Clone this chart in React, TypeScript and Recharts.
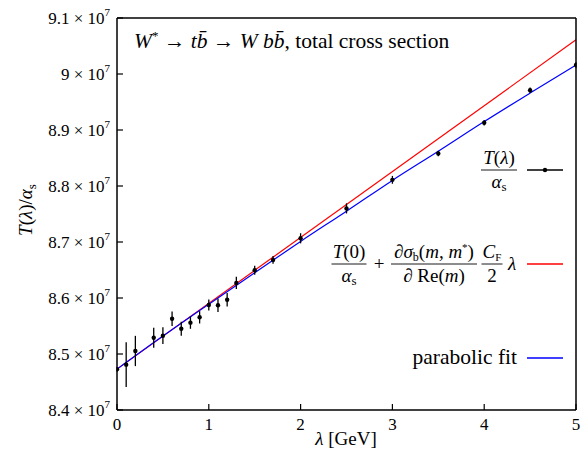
import {
  ComposedChart,
  ErrorBar,
  Line,
  Scatter,
  XAxis,
  YAxis,
} from 'recharts'

// lattice points, T(λ)/α_s in units of 1e7
const lambdas = [0, 0.1, 0.2, 0.4, 0.5, 0.6, 0.7, 0.8, 0.9, 1.0, 1.1, 1.2, 1.3, 1.5, 1.7, 2.0, 2.5, 3.0, 3.5, 4.0, 4.5, 5.0]
const tValues = [8.4727, 8.481, 8.5054, 8.529, 8.5327, 8.563, 8.545, 8.556, 8.5655, 8.5875, 8.587, 8.597, 8.627, 8.6495, 8.668, 8.7066, 8.760, 8.811, 8.858, 8.913, 8.971, 9.016]
const tErrors = [0.004, 0.04, 0.027, 0.018, 0.015, 0.013, 0.0125, 0.011, 0.011, 0.01, 0.012, 0.012, 0.011, 0.008, 0.007, 0.009, 0.009, 0.007, 0.005, 0.005, 0.005, 0.005]

// linear prediction (red)
const linearX = [0, 5]
const linearY = [8.473, 9.061]

// parabolic fit (blue)
const fitX = [0, 0.5, 1, 1.5, 2, 2.5, 3, 3.5, 4, 4.5, 5]
const fitY = [8.473, 8.532, 8.589, 8.645, 8.701, 8.755, 8.81, 8.862, 8.915, 8.966, 9.016]

const xTicks = [0, 1, 2, 3, 4, 5]
const yTicks = [8.4, 8.5, 8.6, 8.7, 8.8, 8.9, 9.0, 9.1]

const points = lambdas.map((l, i) => ({ x: l, y: tValues[i], err: tErrors[i] }))
const linear = linearX.map((x, i) => ({ x, y: linearY[i] }))
const fit = fitX.map((x, i) => ({ x, y: fitY[i] }))

const FONT = '"Liberation Serif", "DejaVu Serif", serif'
const TICK_LEN = 6

function BottomTick(props: any) {
  const { x, y, payload } = props
  return (
    <g>
      <line x1={x} y1={y} x2={x} y2={y - TICK_LEN} stroke="#000" strokeWidth={1.2} />
      <text x={x} y={y + 20} textAnchor="middle" fontFamily={FONT} fontSize={17} fill="#000">
        {payload.value}
      </text>
    </g>
  )
}

function TopTick(props: any) {
  const { x, y } = props
  return <line x1={x} y1={y} x2={x} y2={y + TICK_LEN} stroke="#000" strokeWidth={1.2} />
}

function LeftTick(props: any) {
  const { x, y, payload } = props
  const label = String(parseFloat(Number(payload.value).toFixed(1)))
  return (
    <g>
      <line x1={x} y1={y} x2={x + TICK_LEN} y2={y} stroke="#000" strokeWidth={1.2} />
      <text x={x - 7} y={y + 6} textAnchor="end" fontFamily={FONT} fontSize={17} fill="#000">
        <tspan>{label} × 10</tspan>
        <tspan dy={-8} fontSize={11}>7</tspan>
      </text>
    </g>
  )
}

function RightTick(props: any) {
  const { x, y } = props
  return <line x1={x} y1={y} x2={x - TICK_LEN} y2={y} stroke="#000" strokeWidth={1.2} />
}

function Dot(props: any) {
  const { cx, cy } = props
  return <circle cx={cx} cy={cy} r={2.2} fill="#000" />
}

function Frac({ cx, bar, w, num, den }: { cx: number; bar: number; w: number; num: any; den: any }) {
  return (
    <g>
      <text x={cx} y={bar - 6} textAnchor="middle">{num}</text>
      <line x1={cx - w / 2} y1={bar} x2={cx + w / 2} y2={bar} stroke="#000" strokeWidth={0.9} />
      <text x={cx} y={bar + 18} textAnchor="middle">{den}</text>
    </g>
  )
}

function Overlay() {
  return (
    <svg
      width={581}
      height={456}
      style={{ position: 'absolute', left: 0, top: 0, pointerEvents: 'none' }}
      fontFamily={FONT}
      fontSize={19}
      fill="#000"
    >
      {/* title */}
      <text x={134} y={48} fontSize={21.5}>
        <tspan fontStyle="italic">W</tspan>
        <tspan dy={-8} fontSize={13}>*</tspan>
        <tspan dy={8}> → </tspan>
        <tspan fontStyle="italic">tb{'\u0304'}</tspan>
        <tspan> → </tspan>
        <tspan fontStyle="italic">W bb{'\u0304'}</tspan>
        <tspan>, total cross section</tspan>
      </text>

      {/* axis labels */}
      <text x={346} y={445} textAnchor="middle" fontSize={19}>
        <tspan fontStyle="italic">λ</tspan>
        <tspan> [GeV]</tspan>
      </text>
      <text x={0} y={0} textAnchor="middle" fontSize={19} transform="translate(32 210) rotate(-90)">
        <tspan fontStyle="italic">T</tspan>
        <tspan>(</tspan>
        <tspan fontStyle="italic">λ</tspan>
        <tspan>)/</tspan>
        <tspan fontStyle="italic">α</tspan>
        <tspan dy={4} fontSize={13}>s</tspan>
      </text>

      {/* legend: data */}
      <Frac
        cx={499}
        bar={170}
        w={36}
        num={<><tspan fontStyle="italic">T</tspan>(<tspan fontStyle="italic">λ</tspan>)</>}
        den={<><tspan fontStyle="italic">α</tspan><tspan dy={3} fontSize={13}>s</tspan></>}
      />
      <line x1={527} y1={170} x2={563} y2={170} stroke="#000" strokeWidth={1.3} />
      <circle cx={545} cy={170} r={2.2} fill="#000" />

      {/* legend: linear */}
      <Frac
        cx={349}
        bar={264}
        w={35}
        num={<><tspan fontStyle="italic">T</tspan>(0)</>}
        den={<><tspan fontStyle="italic">α</tspan><tspan dy={3} fontSize={13}>s</tspan></>}
      />
      <text x={379} y={270} textAnchor="middle">+</text>
      <Frac
        cx={434}
        bar={264}
        w={86}
        num={<><tspan fontStyle="italic">∂σ</tspan><tspan dy={3} fontSize={12}>b</tspan><tspan dy={-3}>(</tspan><tspan fontStyle="italic">m, m</tspan><tspan dy={-7} fontSize={11}>*</tspan><tspan dy={7}>)</tspan></>}
        den={<><tspan fontStyle="italic">∂</tspan> Re(<tspan fontStyle="italic">m</tspan>)</>}
      />
      <Frac
        cx={492}
        bar={264}
        w={21}
        num={<><tspan fontStyle="italic">C</tspan><tspan dy={3} fontSize={11}>F</tspan></>}
        den={<>2</>}
      />
      <text x={512} y={270} textAnchor="middle" fontStyle="italic">λ</text>
      <line x1={527} y1={264} x2={563} y2={264} stroke="#ff0000" strokeWidth={1.3} />

      {/* legend: fit */}
      <text x={517} y={364} textAnchor="end" fontSize={21.5}>parabolic fit</text>
      <line x1={527} y1={358} x2={563} y2={358} stroke="#0000ff" strokeWidth={1.3} />
    </svg>
  )
}

const axisLine = { stroke: '#000', strokeWidth: 1.5 }

export default function App() {
  return (
    <div style={{ position: 'absolute', left: 0, top: 0, width: 581, height: 456, background: '#fff' }}>
      <ComposedChart
        width={581}
        height={456}
        margin={{ top: 8, right: 1, bottom: 6, left: 7 }}
      >
        <XAxis
          xAxisId="b"
          type="number"
          dataKey="x"
          domain={[0, 5]}
          ticks={xTicks}
          height={40}
          tickSize={0}
          tickMargin={0}
          tickLine={false}
          tick={<BottomTick />}
          axisLine={axisLine}
          interval={0}
          allowDataOverflow
        />
        <XAxis
          xAxisId="t"
          orientation="top"
          type="number"
          dataKey="x"
          domain={[0, 5]}
          ticks={xTicks}
          height={10}
          tickSize={0}
          tickMargin={0}
          tickLine={false}
          tick={<TopTick />}
          axisLine={axisLine}
          interval={0}
        />
        <YAxis
          yAxisId="l"
          type="number"
          domain={[8.4, 9.1]}
          ticks={yTicks}
          width={110}
          tickSize={0}
          tickMargin={0}
          tickLine={false}
          tick={<LeftTick />}
          axisLine={axisLine}
          interval={0}
          allowDataOverflow
        />
        <YAxis
          yAxisId="r"
          orientation="right"
          type="number"
          domain={[8.4, 9.1]}
          ticks={yTicks}
          width={4}
          tickSize={0}
          tickMargin={0}
          tickLine={false}
          tick={<RightTick />}
          axisLine={axisLine}
          interval={0}
        />
        <Line
          xAxisId="b"
          yAxisId="l"
          data={linear}
          dataKey="y"
          type="linear"
          stroke="#ff0000"
          strokeWidth={1.2}
          dot={false}
          activeDot={false}
          isAnimationActive={false}
        />
        <Line
          xAxisId="b"
          yAxisId="l"
          data={fit}
          dataKey="y"
          type="monotone"
          stroke="#0000ff"
          strokeWidth={1.2}
          dot={false}
          activeDot={false}
          isAnimationActive={false}
        />
        <Scatter
          xAxisId="b"
          yAxisId="l"
          data={points}
          dataKey="y"
          fill="#000"
          shape={<Dot />}
          isAnimationActive={false}
        >
          <ErrorBar dataKey="err" direction="y" width={0} stroke="#000" strokeWidth={1.3} />
        </Scatter>
      </ComposedChart>
      <Overlay />
    </div>
  )
}
